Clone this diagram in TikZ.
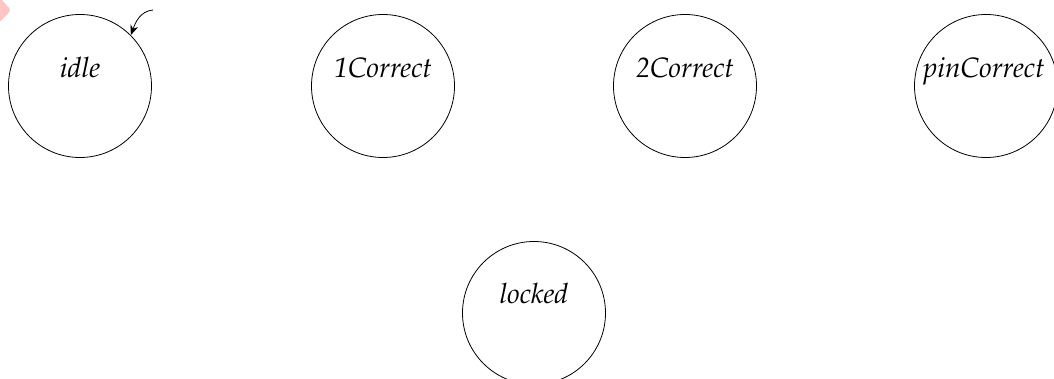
\documentclass[tikz,border=0pt]{standalone}
\usepackage[T1]{fontenc}
\usepackage{mathpazo}
\usetikzlibrary{arrows.meta}
\definecolor{blobpink}{HTML}{FFC4C4}
\tikzset{
  state/.style={circle, draw=black, line width=0.8pt, minimum size=143pt, inner sep=0pt},
  statelabel/.style={anchor=base, font=\fontsize{28}{32}\selectfont\itshape, inner sep=0pt},
  startarrow/.style={-{Stealth[length=10pt,width=8pt]}, line width=0.8pt}
}
\begin{document}
\begin{tikzpicture}[x=1pt,y=-1pt]
\useasboundingbox (0,0) rectangle (1054,379);
\fill[blobpink, rounded corners=2pt] (-12,10) -- (0,-2) -- (11,10) -- (0,22) -- cycle;
\node[state] (idle) at (80,86) {};
\node[state] (one) at (383,86) {};
\node[state] (two) at (685,86) {};
\node[state] (pin) at (986,86) {};
\node[state] (locked) at (534,313) {};
\node[statelabel] (idleL) at ([yshift=8pt]idle.center) {idle};
\node[statelabel] (oneL) at ([yshift=8pt]one.center) {1Correct};
\node[statelabel] (twoL) at ([yshift=8pt]two.center) {2Correct};
\node[statelabel] (pinL) at ([xshift=-2pt,yshift=8pt]pin.center) {pinCorrect};
\node[statelabel] (lockedL) at ([yshift=10pt]locked.center) {locked};
\coordinate (startpt) at (153,10);
\draw[startarrow] (startpt) to[out=185, in=70] (idle.45);
\end{tikzpicture}
\end{document}
